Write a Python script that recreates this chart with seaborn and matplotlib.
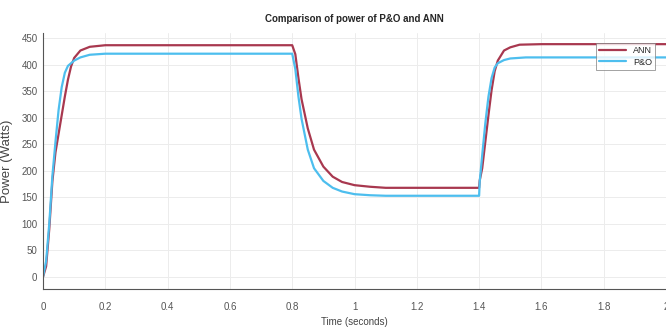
import pandas as pd
import matplotlib
matplotlib.use("Agg")
import matplotlib.pyplot as plt
import seaborn as sns

# ANN power curve
t_ann = [0, 0.01, 0.02, 0.03, 0.04, 0.05, 0.06, 0.07, 0.08, 0.09, 0.10, 0.12, 0.15, 0.20,
         0.80, 0.81, 0.82, 0.83, 0.85, 0.87, 0.90, 0.93, 0.96, 1.00, 1.05, 1.10,
         1.40, 1.402, 1.41, 1.42, 1.43, 1.44, 1.45, 1.46, 1.48, 1.50, 1.53, 1.60, 2.0]
p_ann = [0, 20, 90, 180, 235, 270, 305, 340, 372, 397, 413, 427, 434, 437,
         437, 420, 375, 335, 280, 240, 208, 189, 179, 173, 170, 168,
         168, 182, 205, 255, 305, 352, 388, 408, 427, 433, 438, 439, 439]

# P&O power curve
t_po = [0, 0.01, 0.02, 0.03, 0.04, 0.05, 0.06, 0.07, 0.08, 0.10, 0.12, 0.15, 0.20,
        0.80, 0.81, 0.82, 0.83, 0.85, 0.87, 0.90, 0.93, 0.96, 1.00, 1.05, 1.10,
        1.40, 1.402, 1.41, 1.42, 1.43, 1.44, 1.45, 1.46, 1.48, 1.50, 1.55, 2.0]
p_po = [0, 30, 100, 190, 255, 315, 358, 385, 398, 408, 414, 419, 421,
        421, 392, 340, 298, 240, 205, 181, 168, 161, 156, 154, 153,
        153, 180, 230, 290, 340, 375, 395, 403, 409, 412, 414, 414]

df = pd.concat([
    pd.DataFrame({"time": t_ann, "power": p_ann, "method": "ANN"}),
    pd.DataFrame({"time": t_po, "power": p_po, "method": "P&O"}),
])

sns.set_style("white")
plt.rcParams["font.family"] = ["Liberation Sans", "DejaVu Sans"]

fig = plt.figure(figsize=(6.66, 3.27), dpi=100)
ax = fig.add_axes([0.0646, 0.116, 0.9354, 0.783])

sns.lineplot(data=df, x="time", y="power", hue="method", sort=False,
             palette={"ANN": "#A8384F", "P&O": "#4DBEEE"}, linewidth=1.6, ax=ax)

ax.set_xlim(0, 2)
ax.set_ylim(-23, 460)
ax.set_xticks([0, 0.2, 0.4, 0.6, 0.8, 1, 1.2, 1.4, 1.6, 1.8, 2])
ax.set_xticklabels(["0", "0.2", "0.4", "0.6", "0.8", "1", "1.2", "1.4", "1.6", "1.8", "2"])
ax.set_yticks(range(0, 451, 50))
ax.grid(True, color="#ececec", linewidth=0.7)
ax.tick_params(direction="in", length=3, labelsize=7, colors="#555555")
ax.tick_params(axis="x", pad=9)
ax.tick_params(axis="y", pad=4)
for s in ["top", "right"]:
    ax.spines[s].set_visible(False)
for s in ["left", "bottom"]:
    ax.spines[s].set_color("#555555")
    ax.spines[s].set_linewidth(0.8)

ax.set_xlabel("Time (seconds)", fontsize=7, color="#444444", labelpad=4)
ax.set_ylabel("Power (Watts)", fontsize=9.5, color="#444444", labelpad=6)
ax.set_title("Comparison of power of P&O and ANN", fontsize=7, fontweight="bold", pad=8)

leg = ax.legend(loc="upper right", fontsize=6.5, frameon=True, fancybox=False,
                handlelength=3, borderpad=0.35, labelspacing=0.3,
                bbox_to_anchor=(0.99, 0.98))
leg.get_frame().set_edgecolor("#777777")
leg.get_frame().set_linewidth(0.6)

fig.savefig("out.png", dpi=100)
